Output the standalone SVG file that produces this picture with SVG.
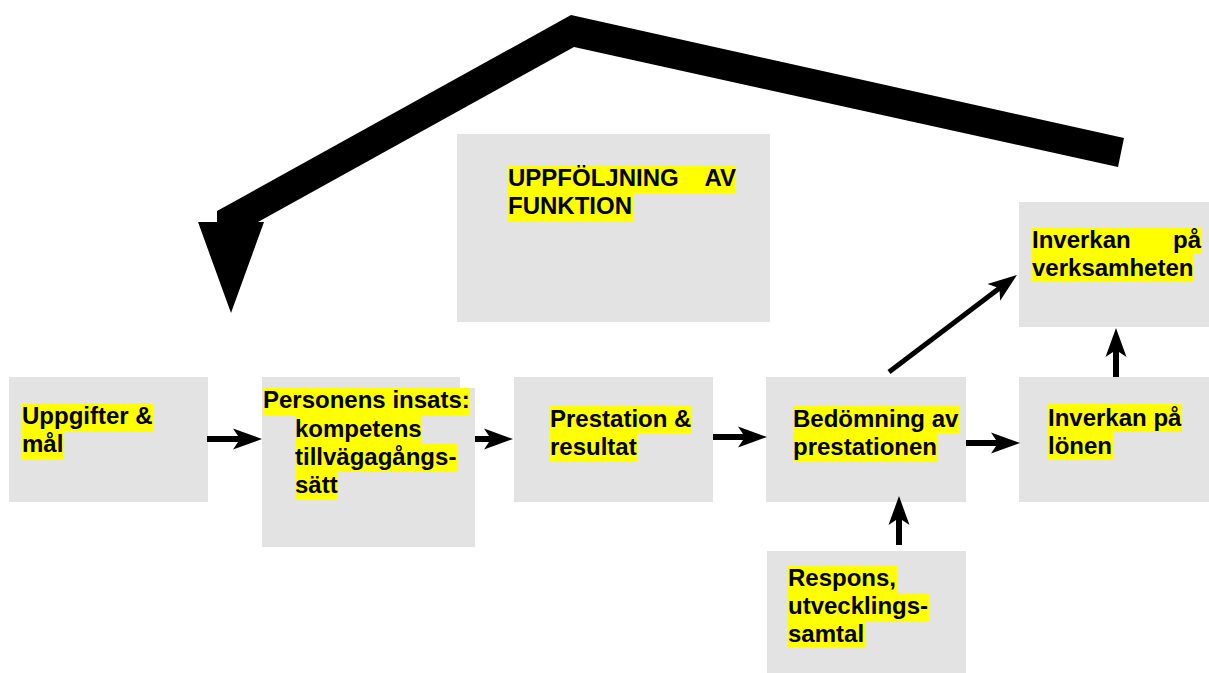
<svg xmlns="http://www.w3.org/2000/svg" width="1209" height="673" viewBox="0 0 1209 673">
<style>
.box{fill:#e3e3e3;}
.hl{fill:#ffff00;}
.t{font-family:"Liberation Sans",Arial,sans-serif;font-weight:bold;font-size:24px;fill:#000;}
.c{stroke:#000;stroke-width:6;fill:none;marker-end:url(#ah);}
</style>
<defs>
<marker id="ah" viewBox="-10 -11 31 22" markerWidth="31" markerHeight="22" refX="0" refY="0" markerUnits="userSpaceOnUse" orient="auto">
<path d="M20,0 L-9,-10.5 L-2,0 L-9,10.5 Z" fill="#000"/>
</marker>
</defs>
<rect width="1209" height="673" fill="#fff"/>

<g id="node-uppfoljning">
<rect class="box" x="457" y="134" width="313" height="188"/>
<rect class="hl" x="508" y="166" width="228" height="27"/>
<rect class="hl" x="508" y="193" width="125" height="28"/>
<text class="t" x="508" y="186">UPPFÖLJNING</text>
<text class="t" x="736" y="186" text-anchor="end">AV</text>
<text class="t" x="508" y="214">FUNKTION</text>
</g>

<g id="node-uppgifter">
<rect class="box" x="9" y="377" width="199" height="125"/>
<rect class="hl" x="22" y="403" width="131" height="28"/>
<rect class="hl" x="22" y="431" width="41" height="28"/>
<text class="t" x="22" y="424">Uppgifter &amp;</text>
<text class="t" x="22" y="452">mål</text>
</g>

<g id="node-personens">
<path class="box" d="M262,377 H460 V388 H475 V547 H262 Z"/>
<rect class="hl" x="263" y="388" width="207" height="27"/>
<rect class="hl" x="295" y="415" width="127" height="28"/>
<rect class="hl" x="295" y="443" width="162" height="29"/>
<rect class="hl" x="295" y="472" width="43" height="27"/>
<text class="t" x="263" y="408">Personens insats:</text>
<text class="t" x="295" y="436.5">kompetens</text>
<text class="t" x="295" y="465">tillvägagångs-</text>
<text class="t" x="295" y="493">sätt</text>
</g>

<g id="node-prestation">
<rect class="box" x="514" y="377" width="199" height="125"/>
<rect class="hl" x="550" y="406" width="142" height="27"/>
<rect class="hl" x="550" y="433" width="87" height="28"/>
<text class="t" x="550" y="427">Prestation &amp;</text>
<text class="t" x="550" y="455">resultat</text>
</g>

<g id="node-bedomning">
<rect class="box" x="766" y="377" width="200" height="125"/>
<rect class="hl" x="793" y="406" width="166" height="27"/>
<rect class="hl" x="793" y="433" width="144" height="28"/>
<text class="t" x="793" y="427">Bedömning av</text>
<text class="t" x="793" y="455">prestationen</text>
</g>

<g id="node-lonen">
<rect class="box" x="1019" y="377" width="190" height="125"/>
<rect class="hl" x="1048" y="404" width="134" height="28"/>
<rect class="hl" x="1048" y="432" width="65" height="27"/>
<text class="t" x="1048" y="426">Inverkan på</text>
<text class="t" x="1048" y="454">lönen</text>
</g>

<g id="node-verksamheten">
<rect class="box" x="1019" y="202" width="190" height="125"/>
<rect class="hl" x="1032" y="227" width="170" height="27"/>
<rect class="hl" x="1032" y="254" width="161" height="27"/>
<text class="t" x="1032" y="248">Inverkan</text>
<text class="t" x="1201" y="248" text-anchor="end">på</text>
<text class="t" x="1032" y="276">verksamheten</text>
</g>

<g id="node-respons">
<rect class="box" x="767" y="551" width="199" height="122"/>
<rect class="hl" x="788" y="565" width="109" height="28"/>
<rect class="hl" x="788" y="593" width="141" height="28"/>
<rect class="hl" x="788" y="621" width="77" height="27"/>
<text class="t" x="788" y="586">Respons,</text>
<text class="t" x="788" y="614">utvecklings-</text>
<text class="t" x="788" y="642">samtal</text>
</g>

<g id="connectors">
<polygon points="571,15 1124,138 1118,167 574,47 258,222 264,222 231,313 198,222 217,222 217,211" fill="#000"/>
<line class="c" x1="207" y1="439" x2="242" y2="439"/>
<line class="c" x1="475" y1="439" x2="493" y2="439"/>
<line class="c" x1="713" y1="437" x2="747" y2="437"/>
<line class="c" x1="966" y1="443" x2="1000" y2="443"/>
<line class="c" x1="899" y1="545" x2="899" y2="516"/>
<line class="c" x1="1116" y1="377" x2="1116" y2="348"/>
<line class="c" x1="889" y1="372" x2="1001" y2="287" style="stroke-width:5"/>
</g>
</svg>
